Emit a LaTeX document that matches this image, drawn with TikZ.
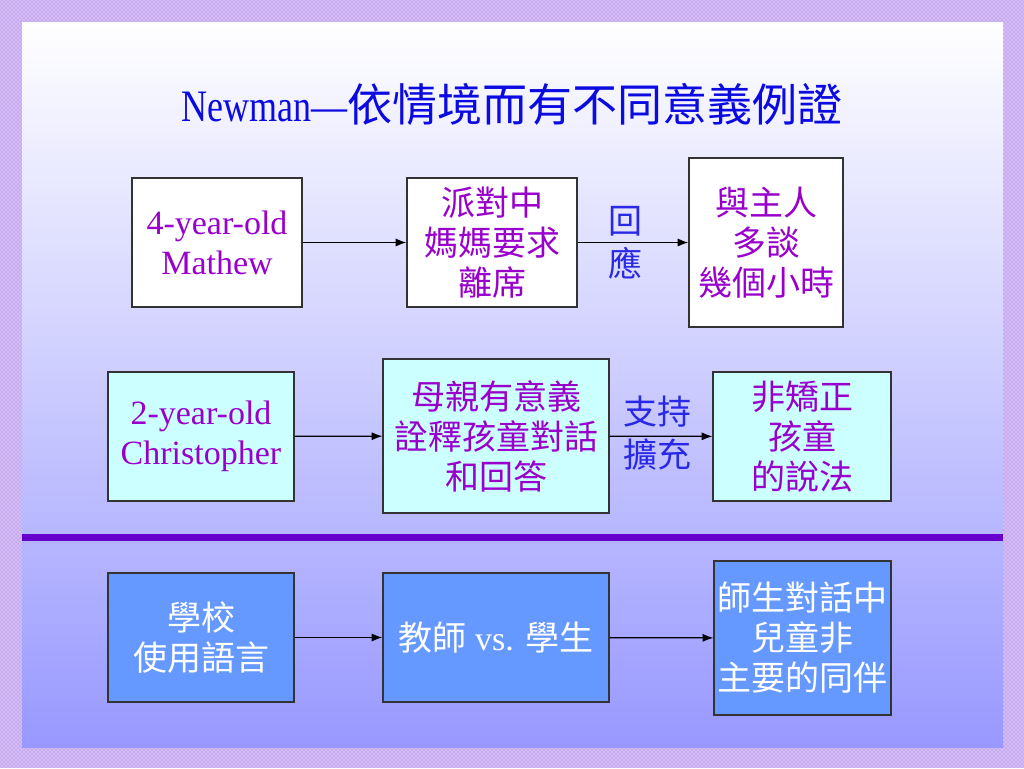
\documentclass[tikz,border=0pt]{standalone}
\usepackage{fontspec}
\setmainfont{Liberation Serif}
\newfontfamily\cjk{Noto Sans CJK TC}
\newfontfamily\titlelatin[FakeStretch=0.8]{Liberation Serif}
\usetikzlibrary{arrows.meta,patterns}
\definecolor{framecol}{RGB}{200,170,240}
\definecolor{bottomcol}{RGB}{152,152,255}
\definecolor{titleblue}{RGB}{10,10,225}
\definecolor{textpurple}{RGB}{153,0,204}
\definecolor{labelblue}{RGB}{40,40,230}
\definecolor{cyanfill}{RGB}{204,255,255}
\definecolor{bluefill}{RGB}{102,153,255}
\definecolor{linepurple}{RGB}{102,0,204}
\begin{document}
\begin{tikzpicture}[
x=0.75pt, y=-0.75pt,
box/.style={rectangle, draw=black!80, line width=0.9pt, align=center, inner sep=0pt,
  font=\fontsize{25.5}{30}\selectfont},
whitebox/.style={box, fill=white, text=textpurple},
cyanbox/.style={box, fill=cyanfill, text=textpurple},
bluebox/.style={box, fill=bluefill, text=white},
arrowlabel/.style={align=center, text=labelblue, font=\cjk\fontsize{25.5}{32}\selectfont},
arr/.style={-{Latex[length=8pt,width=6pt]}, line width=0.9pt, black},
]
\useasboundingbox (0,0) rectangle (1024,768);
\fill[framecol] (0,0) rectangle (1024,768);
\fill[pattern=crosshatch dots, pattern color=white] (0,0) rectangle (1024,768);
\shade[top color=white, bottom color=bottomcol] (22,22) rectangle (1003,747);
\fill[linepurple] (22,534) rectangle (1003,541);

\node[text=titleblue] (title) at (512,104)
    {\fontsize{33.75}{40}\selectfont{\titlelatin Newman—}{\cjk 依情境而有不同意義例證}};

\node[whitebox, minimum width=127.5pt, minimum height=96.75pt] (mathew) at (217,242.5)
    {4-year-old\\Mathew};
\node[whitebox, minimum width=127.5pt, minimum height=96.75pt, font=\cjk\fontsize{25.5}{30}\selectfont] (party) at (492,242.5)
    {派對中\\媽媽要求\\離席};
\node[whitebox, minimum width=115.5pt, minimum height=126.75pt, font=\cjk\fontsize{25.5}{30}\selectfont] (host) at (766,242.5)
    {與主人\\多談\\幾個小時};
\node[arrowlabel] (respond) at (625,243) {回\\應};

\node[cyanbox, minimum width=139.5pt, minimum height=96.75pt] (chris) at (201,436.5)
    {2-year-old\\Christopher};
\node[cyanbox, minimum width=169.5pt, minimum height=115.5pt, font=\cjk\fontsize{25.5}{30}\selectfont] (mother) at (496,436)
    {母親有意義\\詮釋孩童對話\\和回答};
\node[cyanbox, minimum width=133.5pt, minimum height=96.75pt, font=\cjk\fontsize{25.5}{30}\selectfont] (child) at (802,436.5)
    {非矯正\\孩童\\的說法};
\node[arrowlabel] (support) at (657,433) {支持\\擴充};

\node[bluebox, minimum width=139.5pt, minimum height=96.75pt, font=\cjk\fontsize{25.5}{30}\selectfont] (school) at (201,637.5)
    {學校\\使用語言};
\node[bluebox, minimum width=169.5pt, minimum height=96.75pt] (teacher) at (496,637.5)
    {{\cjk 教師} vs. {\cjk 學生}};
\node[bluebox, minimum width=132.75pt, minimum height=115.5pt, font=\cjk\fontsize{25.5}{30}\selectfont] (peer) at (802.5,638)
    {師生對話中\\兒童非\\主要的同伴};

\draw[arr] (mathew) -- (party);
\draw[arr] (party) -- (host);
\draw[arr] (chris) -- (mother);
\draw[arr] (mother) -- (child);
\draw[arr] (school) -- (teacher);
\draw[arr] (teacher) -- (peer);
\end{tikzpicture}
\end{document}
